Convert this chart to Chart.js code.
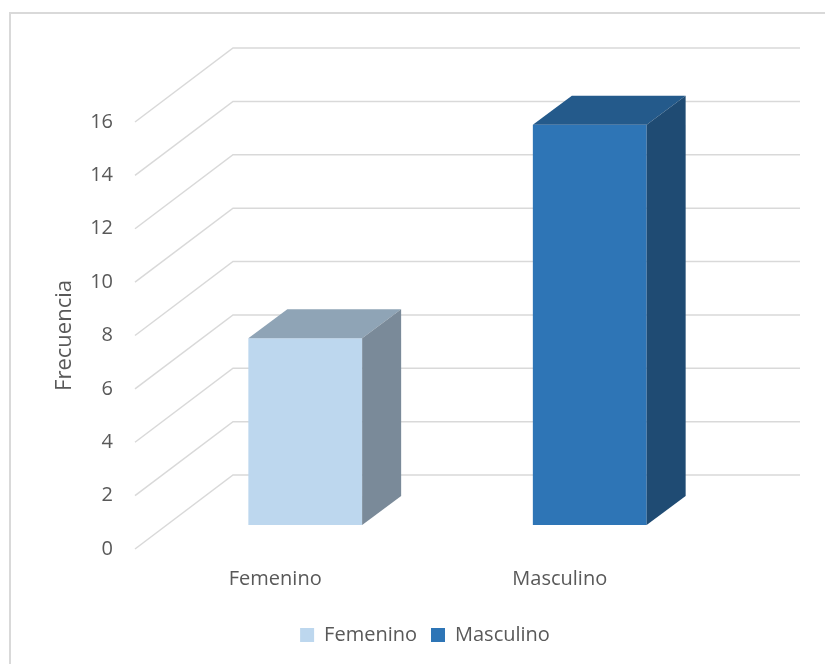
<!DOCTYPE html>
<html>
<head>
<meta charset="utf-8">
<script src="https://cdn.jsdelivr.net/npm/chart.js@4/dist/chart.umd.min.js"></script>
<style>
  html, body { margin: 0; padding: 0; background: #ffffff; }
  #wrap { position: relative; width: 825px; height: 664px; }
</style>
</head>
<body>
<div id="wrap"><canvas id="c" width="825" height="664"></canvas></div>
<script>
// ---- data ----
const categories = ['Femenino', 'Masculino'];
const frecuencia = [7, 15];
const yMin = 0;
const yMax = 16;
const yStep = 2;
const yTitle = 'Frecuencia';

// ---- styles ----
const frontColors = ['#BDD7EE', '#2E75B6'];
const topColors = ['#8FA4B6', '#245A8B'];
const sideColors = ['#7A8A99', '#1F4B73'];
const gridColor = '#D9D9D9';
const textColor = '#595959';
const FONT = '"Open Sans", "Noto Sans", sans-serif';

// 3D geometry (pixel offsets relative to scales)
const depth = { dx: 39, dy: -29 };       // bar depth
const frontWall = { dx: -28, dy: 24 };   // front edge of grid relative to bar plane (x from chartArea.left)
const backWall = { dx: 70, dy: -50 };    // back wall relative to bar plane (x from chartArea.left)
const backRightExtra = 68;
const titleX = 65;

const borderPlugin = {
  id: 'outerBorder',
  beforeDraw(chart) {
    const ctx = chart.ctx;
    ctx.save();
    ctx.fillStyle = '#ffffff';
    ctx.fillRect(0, 0, chart.width, chart.height);
    ctx.strokeStyle = gridColor;
    ctx.lineWidth = 2;
    ctx.beginPath();
    ctx.moveTo(10, chart.height);
    ctx.lineTo(10, 13);
    ctx.lineTo(chart.width, 13);
    ctx.stroke();
    ctx.restore();
  }
};

const wallPlugin = {
  id: 'wall3d',
  beforeDatasetsDraw(chart) {
    const ctx = chart.ctx;
    const ys = chart.scales.y;
    const area = chart.chartArea;
    ctx.save();
    ctx.strokeStyle = gridColor;
    ctx.lineWidth = 1.5;
    ys.ticks.forEach(t => {
      const y = ys.getPixelForValue(t.value);
      ctx.beginPath();
      ctx.moveTo(area.left + frontWall.dx, y + frontWall.dy);
      ctx.lineTo(area.left + backWall.dx, y + backWall.dy);
      ctx.lineTo(area.right + backRightExtra, y + backWall.dy);
      ctx.stroke();
    });
    // axis title, centred on the front edge of the value axis
    const yc = (ys.getPixelForValue(yMin) + ys.getPixelForValue(yMax)) / 2 + frontWall.dy;
    ctx.translate(titleX, yc);
    ctx.rotate(-Math.PI / 2);
    ctx.fillStyle = textColor;
    ctx.font = '22px ' + FONT;
    ctx.textAlign = 'center';
    ctx.textBaseline = 'middle';
    ctx.fillText(yTitle, 0, 0);
    ctx.restore();
  }
};

const bar3dPlugin = {
  id: 'bar3d',
  afterDatasetsDraw(chart) {
    const ctx = chart.ctx;
    const meta = chart.getDatasetMeta(0);
    ctx.save();
    meta.data.forEach((bar, i) => {
      const p = bar.getProps(['x', 'y', 'base', 'width'], true);
      const l = p.x - p.width / 2, r = p.x + p.width / 2;
      const top = p.y, bottom = p.base;
      ctx.fillStyle = topColors[i];
      ctx.beginPath();
      ctx.moveTo(l, top);
      ctx.lineTo(l + depth.dx, top + depth.dy);
      ctx.lineTo(r + depth.dx, top + depth.dy);
      ctx.lineTo(r, top);
      ctx.closePath();
      ctx.fill();
      ctx.fillStyle = sideColors[i];
      ctx.beginPath();
      ctx.moveTo(r, top);
      ctx.lineTo(r + depth.dx, top + depth.dy);
      ctx.lineTo(r + depth.dx, bottom + depth.dy);
      ctx.lineTo(r, bottom);
      ctx.closePath();
      ctx.fill();
    });
    ctx.restore();
  }
};

new Chart(document.getElementById('c'), {
  type: 'bar',
  data: {
    labels: categories,
    datasets: [{
      label: yTitle,
      data: frecuencia,
      backgroundColor: frontColors,
      borderWidth: 0,
      barPercentage: 0.4,
      categoryPercentage: 1.0
    }]
  },
  options: {
    responsive: false,
    animation: false,
    devicePixelRatio: 1,
    layout: { padding: { left: 50, right: 25, top: 98, bottom: 9 } },
    plugins: {
      tooltip: { enabled: false },
      legend: {
        display: true,
        position: 'bottom',
        onClick: null,
        labels: {
          color: textColor,
          font: { family: FONT, size: 20 },
          boxWidth: 14,
          boxHeight: 14,
          padding: 14,
          generateLabels(chart) {
            const ds = chart.data.datasets[0];
            return chart.data.labels.map((lab, i) => ({
              text: lab,
              fillStyle: ds.backgroundColor[i],
              strokeStyle: ds.backgroundColor[i],
              lineWidth: 0,
              fontColor: textColor,
              hidden: false,
              index: i,
              datasetIndex: 0
            }));
          }
        }
      }
    },
    scales: {
      x: {
        type: 'category',
        grid: { display: false, drawTicks: false },
        border: { display: false },
        ticks: {
          color: textColor,
          font: { family: FONT, size: 20 },
          padding: 42,
          labelOffset: -30,
          maxRotation: 0
        },
        afterFit(scale) { scale.height = 86; }
      },
      y: {
        type: 'linear',
        position: 'left',
        min: yMin,
        max: yMax,
        grid: { display: false, drawTicks: false },
        border: { display: false },
        ticks: {
          stepSize: yStep,
          color: textColor,
          font: { family: FONT, size: 20 },
          padding: 50,
          labelOffset: 24
        },
        title: { display: false, text: yTitle },
        afterFit(scale) { scale.width = 113; }
      },
      yr: {
        type: 'linear',
        position: 'right',
        display: true,
        grid: { display: false, drawTicks: false },
        border: { display: false },
        ticks: { display: false },
        afterFit(scale) { scale.width = 68; }
      }
    }
  },
  plugins: [borderPlugin, wallPlugin, bar3dPlugin]
});
</script>
</body>
</html>
